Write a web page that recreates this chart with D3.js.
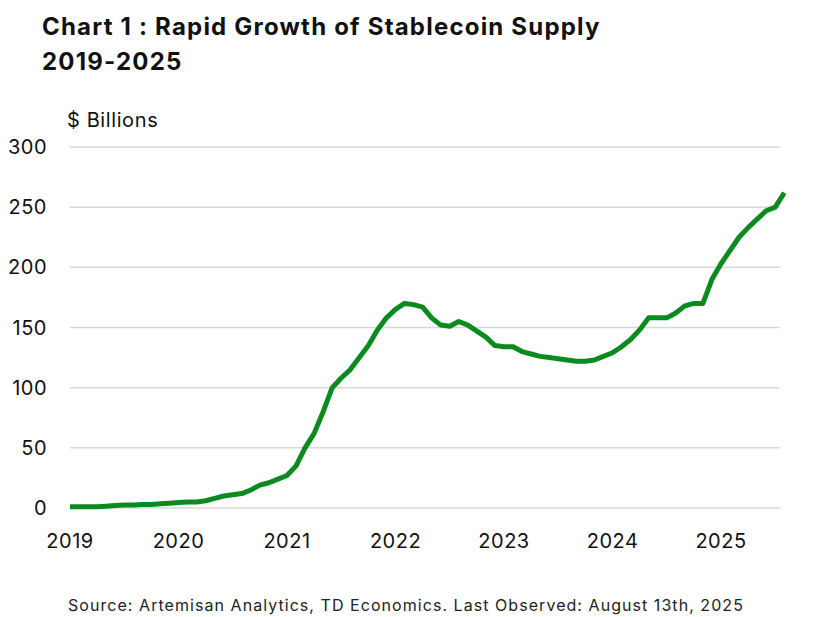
<!DOCTYPE html><html><head><meta charset="utf-8">
<script src="https://cdn.jsdelivr.net/npm/d3@7"></script>
<style>body{margin:0;background:#fff}text{font-family:Inter,Roboto,sans-serif}</style></head><body>
<svg id="c" width="827" height="617"></svg>
<script>
const startYear = 2019;
const values = [
1,1,1,1,1.5,2,2.5,2.5,3,3,3.5,4,
4.5,5,5,6,8,10,11,12,15,19,21,24,
27,35,50,62,80,100,108,115,125,135,148,158,
165,170,169,167,158,152,151,155,152,147,142,135,
134,134,130,128,126,125,124,123,122,122,123,126,
129,134,140,148,158,158,158,162,168,170,170,190,
203,214,225,233,240,247,250,262];
const yTicks = [0,50,100,150,200,250,300];
const xTicks = [2019,2020,2021,2022,2023,2024,2025];
const svg = d3.select("#c");
const x = d3.scaleLinear().domain([2019,2025]).range([70,721]);
const y = d3.scaleLinear().domain([0,300]).range([508,147]);
svg.append("text").attr("x",42).attr("y",35).attr("font-size",24).attr("font-weight",700).attr("letter-spacing",1.2).attr("fill","#111").text("Chart 1 : Rapid Growth of Stablecoin Supply");
svg.append("text").attr("x",42).attr("y",70).attr("font-size",24).attr("font-weight",700).attr("letter-spacing",1.2).attr("fill","#111").text("2019-2025");
svg.append("text").attr("x",67).attr("y",127).attr("font-size",20).attr("letter-spacing",0.6).attr("fill","#111").text("$ Billions");
svg.selectAll(".g").data(yTicks).join("line").attr("x1",70).attr("x2",780).attr("y1",d=>y(d)).attr("y2",d=>y(d)).attr("stroke","#d9d9d9").attr("stroke-width",1.5);
svg.selectAll(".yl").data(yTicks).join("text").attr("x",47).attr("y",d=>y(d)+7).attr("text-anchor","end").attr("font-size",20).attr("letter-spacing",0.5).attr("fill","#111").text(d=>d);
svg.selectAll(".xl").data(xTicks).join("text").attr("x",d=>x(d)).attr("y",548).attr("text-anchor","middle").attr("font-size",20).attr("letter-spacing",0.5).attr("fill","#111").text(d=>d);
svg.append("path").datum(values).attr("fill","none").attr("stroke","#0a8a1f").attr("stroke-width",5).attr("stroke-linejoin","round")
 .attr("d",d3.line().x((d,i)=>x(startYear+i/12)).y(d=>y(d)));
svg.append("text").attr("x",68).attr("y",611).attr("font-size",16).attr("letter-spacing",1.05).attr("fill","#222").text("Source: Artemisan Analytics, TD Economics. Last Observed: August 13th, 2025");
</script></body></html>
